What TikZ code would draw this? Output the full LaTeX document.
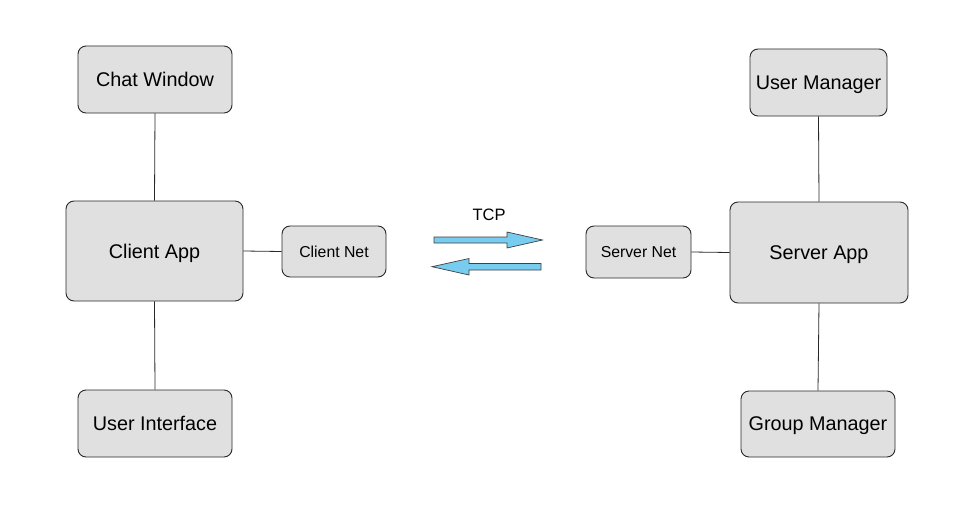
\documentclass[tikz,border=0pt]{standalone}
\usepackage{fontspec}
\setmainfont{Liberation Sans}
\definecolor{boxfill}{RGB}{224,224,224}
\definecolor{boxline}{RGB}{40,40,40}
\definecolor{arrowfill}{RGB}{120,204,240}
\begin{document}
\begin{tikzpicture}[x=1pt,y=-1pt,
  bigbox/.style={draw=boxline,fill=boxfill,rounded corners=8pt,line width=0.9pt,
    font=\fontsize{19.8}{22}\selectfont,inner sep=0pt,text depth=0pt},
  smallbox/.style={draw=boxline,fill=boxfill,rounded corners=8pt,line width=0.9pt,
    font=\fontsize{15.8}{18}\selectfont,inner sep=0pt,text depth=0pt},
  link/.style={draw=boxline,line width=0.8pt},
  flow/.style={draw=black!75,fill=arrowfill,line width=0.7pt}]
\useasboundingbox[fill=white] (0,0) rectangle (972,527);
\node[bigbox,minimum width=154pt,minimum height=67pt] (chat) at (155,79.5) {Chat Window};
\node[bigbox,minimum width=177pt,minimum height=100pt] (capp) at (154.5,251) {Client App};
\node[bigbox,minimum width=154pt,minimum height=67pt] (ui) at (155,423.5) {User Interface};
\node[smallbox,minimum width=104pt,minimum height=51pt] (cnet) at (334,251.5) {Client Net};
\node[smallbox,minimum width=105pt,minimum height=52pt] (snet) at (638.5,252) {Server Net};
\node[bigbox,minimum width=178pt,minimum height=101pt] (sapp) at (819,252.5) {Server App};
\node[bigbox,minimum width=137pt,minimum height=67pt] (um) at (818.5,82.5) {User Manager};
\node[bigbox,minimum width=154pt,minimum height=66pt] (gm) at (818,424) {Group Manager};
\node[font=\fontsize{16.5}{19}\selectfont] (tcp) at (489,215) {TCP};
\draw[link] (chat.south) -- (capp.north);
\draw[link] (capp.south) -- (ui.north);
\draw[link] (capp.east) -- (cnet.west);
\draw[link] (snet.east) -- (sapp.west);
\draw[link] (um.south) -- (sapp.north);
\draw[link] (sapp.south) -- (gm.north);
\draw[flow] (434,237) -- (507,237) -- (507,232) -- (542.5,240) -- (507,248) -- (507,243) -- (434,243) -- cycle;
\draw[flow] (541,263.5) -- (469,263.5) -- (469,258.5) -- (432,266.7) -- (469,275) -- (469,270) -- (541,270) -- cycle;
\end{tikzpicture}
\end{document}
